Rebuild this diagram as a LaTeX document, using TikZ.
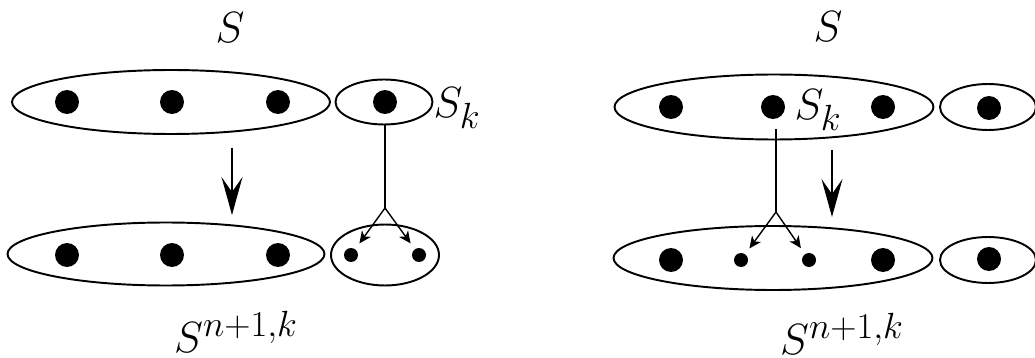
\documentclass[tikz,border=0pt]{standalone}
\usetikzlibrary{arrows.meta,shapes.geometric}
\DeclareMathSizes{25}{25}{21}{17}
\tikzset{
  group/.style={ellipse,draw,line width=1.1pt,inner sep=0pt},
  bigdot/.style={circle,fill,inner sep=0pt,minimum size=4.8mm},
  smalldot/.style={circle,fill,inner sep=0pt,minimum size=2.8mm},
  setname/.style={inner sep=0pt},
  branch/.style={->,line width=0.8pt,shorten >=1.4mm},
  movearrow/.style={-{Stealth[length=7.6mm,width=4.2mm,inset=3mm]},line width=1.1pt}
}

\begin{document}
\begin{tikzpicture}[x=0.02cm,y=-0.02cm,>={Stealth[length=2.4mm,width=2.2mm,inset=0.7mm]},font=\fontsize{25}{30}\selectfont]
  \useasboundingbox (0,0) rectangle (1035,358);
  % left: S_k outside the big part
  \node[setname] (sl) at (230,28) {$S$};
  \node[group,minimum width=6.36cm,minimum height=1.28cm] (topl) at (171,102) {};
  \foreach \x/\n in {67/a,172/b,278/c} \node[bigdot] (tl\n) at (\x,102) {};
  \node[group,minimum width=1.94cm,minimum height=0.9cm] (kl) at (384,102) {};
  \node[bigdot] (kdl) at (385,102) {};
  \node[setname] (skl) at (457,108) {$S_k$};
  \node[group,minimum width=6.34cm,minimum height=1.26cm] (botl) at (166,254) {};
  \foreach \x/\n in {67/a,172/b,278/c} \node[bigdot] (bl\n) at (\x,255) {};
  \node[group,minimum width=2.16cm,minimum height=1.22cm] (kbl) at (385,255) {};
  \node[smalldot] (pl) at (351,255) {};
  \node[smalldot] (ql) at (419,255) {};
  \node[setname] (nl) at (236,332) {$S^{n+1,k}$};
  \coordinate (brl) at (385,208);
  \draw[line width=0.8pt] (kl.south -| brl) -- (brl);
  \draw[branch] (brl) -- (pl);
  \draw[branch] (brl) -- (ql);
  \coordinate (al) at (232,148);
  \coordinate (bl) at (232,215);
  \draw[movearrow] (al) -- (bl);

  % right: S_k inside the big part
  \node[setname] (sr) at (828,27) {$S$};
  \node[group,minimum width=6.38cm,minimum height=1.3cm] (topr) at (774,107) {};
  \node[bigdot] (tra) at (671,107) {};
  \node[bigdot] (kdr) at (773,107) {};
  \node[bigdot] (trc) at (883,107) {};
  \node[setname] (skr) at (818,110) {$S_k$};
  \node[group,minimum width=1.92cm,minimum height=0.92cm] (or) at (988,107) {};
  \node[bigdot] (odr) at (989,108) {};
  \node[group,minimum width=6.38cm,minimum height=1.28cm] (botr) at (773,258) {};
  \node[bigdot] (bra) at (671,260) {};
  \node[smalldot] (pr) at (741,260) {};
  \node[smalldot] (qr) at (809,260) {};
  \node[bigdot] (brc) at (883,260) {};
  \node[group,minimum width=1.92cm,minimum height=0.92cm] (obr) at (988,260) {};
  \node[bigdot] (obdr) at (989,259) {};
  \node[setname] (nr) at (842,334) {$S^{n+1,k}$};
  \coordinate (brr) at (776,212);
  \draw[line width=0.8pt,shorten <=2mm] (kdr.south -| brr) -- (brr);
  \draw[branch] (brr) -- (pr);
  \draw[branch] (brr) -- (qr);
  \coordinate (ar) at (832,150);
  \coordinate (br) at (832,217);
  \draw[movearrow] (ar) -- (br);
\end{tikzpicture}
\end{document}
